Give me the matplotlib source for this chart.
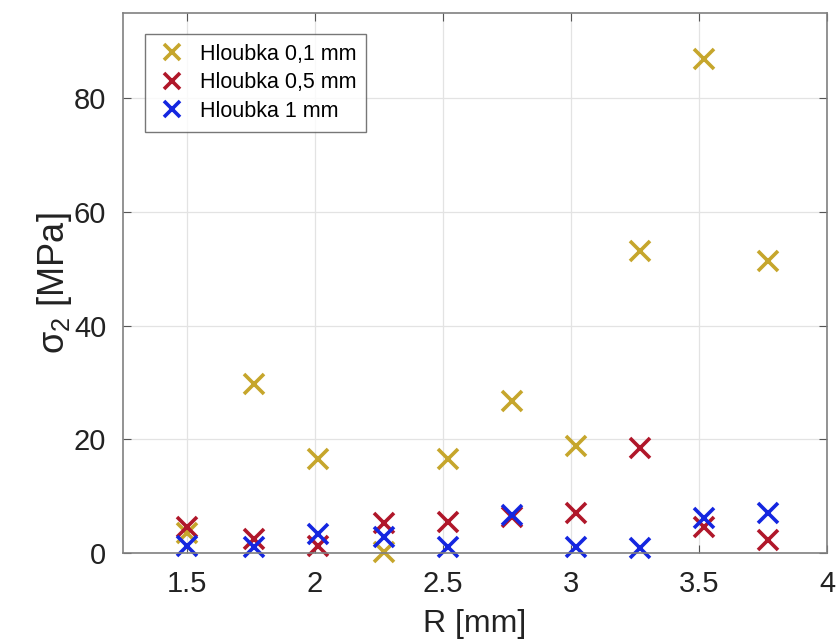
import matplotlib

matplotlib.use("Agg")

import matplotlib.pyplot as plt

plt.rcParams["font.family"] = ["Liberation Sans", "DejaVu Sans"]
plt.rcParams["mathtext.fontset"] = "custom"
plt.rcParams["mathtext.rm"] = "Liberation Sans"
plt.rcParams["mathtext.it"] = "Liberation Sans"

r_mm = [1.5, 1.76, 2.01, 2.27, 2.52, 2.77, 3.02, 3.27, 3.52, 3.77]
sigma_01 = [3.5, 29.8, 16.5, 0.2, 16.5, 26.8, 18.8, 53.2, 87.0, 51.4]
sigma_05 = [4.5, 2.5, 1.2, 5.3, 5.4, 6.3, 7.0, 18.4, 4.6, 2.3]
sigma_1 = [1.2, 1.1, 3.3, 2.8, 1.1, 6.7, 1.0, 0.8, 6.2, 7.0]

labels = ["Hloubka 0,1 mm", "Hloubka 0,5 mm", "Hloubka 1 mm"]
colors = ["#c6a62c", "#b0172a", "#1426e0"]

fig = plt.figure(figsize=(8.37, 6.39), dpi=100)
ax = fig.add_axes([0.147, 0.1346, 0.841, 0.845])

for y, lab, col in zip([sigma_01, sigma_05, sigma_1], labels, colors):
    ax.plot(r_mm, y, linestyle="none", marker="x", markersize=15,
            markeredgewidth=2.6, color=col, label=lab, clip_on=False)

ax.set_xlim(1.25, 4)
ax.set_ylim(0, 95)
ax.set_xticks([1.5, 2, 2.5, 3, 3.5, 4])
ax.set_xticklabels(["1.5", "2", "2.5", "3", "3.5", "4"])
ax.set_yticks([0, 20, 40, 60, 80])
ax.tick_params(direction="in", labelsize=21, length=6, color="#555555",
               top=True, right=True, pad=12, labelcolor="#222222")
ax.grid(True, color="#e3e3e3", linewidth=0.9)
ax.set_axisbelow(True)
for s in ax.spines.values():
    s.set_color("#808080")
    s.set_linewidth(1.2)

ax.set_xlabel("R [mm]", fontsize=23, color="#222222", labelpad=8)
ax.set_ylabel(r"σ$_{\mathregular{2}}$ [MPa]", fontsize=26, color="#222222", labelpad=0)

leg = ax.legend(loc="upper left", bbox_to_anchor=(0.031, 0.961), fontsize=15.5,
                frameon=True, fancybox=False, edgecolor="#555555",
                handletextpad=0.5, borderpad=0.45, labelspacing=0.35,
                markerscale=0.8, handlelength=1.6, borderaxespad=0)
leg.get_frame().set_linewidth(1.0)

fig.savefig("out.png", dpi=100)
